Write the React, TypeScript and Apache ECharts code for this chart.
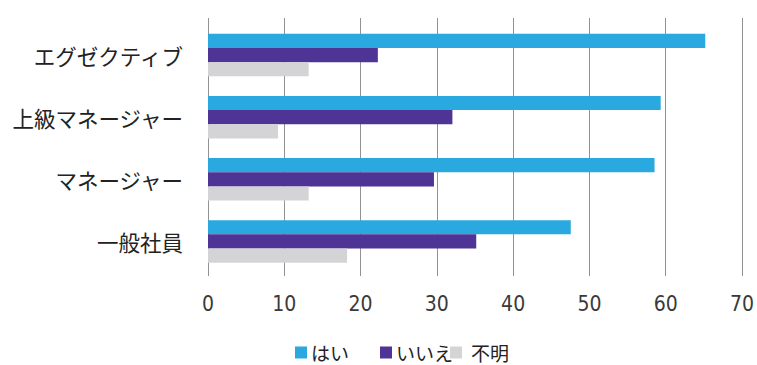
import React, { useEffect, useRef } from "react";
import * as echarts from "echarts";

const categories = ["エグゼクティブ", "上級マネージャー", "マネージャー", "一般社員"];
const seriesNames = ["はい", "いいえ", "不明"];
const yesValues = [64.7, 58.9, 58.1, 47.2];
const noValues = [22.1, 31.8, 29.4, 34.9];
const unknownValues = [13.1, 9.1, 13.1, 18.1];
const xTicks = [0, 10, 20, 30, 40, 50, 60, 70];

const colors = ["#29a9df", "#4e3595", "#d4d4d6"];
const legendLefts = [295, 380, 450];
const legendTextPad = [0, 0, 5];

export default function App() {
  const ref = useRef<HTMLDivElement>(null);
  useEffect(() => {
    if (!ref.current) return;
    const chart = echarts.init(ref.current, null, { renderer: "svg" });
    const data = [yesValues, noValues, unknownValues];
    chart.setOption({
      animation: false,
      backgroundColor: "#ffffff",
      legend: seriesNames.map((name, i) => ({
        data: [name],
        left: legendLefts[i],
        top: 343,
        padding: 0,
        itemWidth: 12,
        itemHeight: 12,
        itemGap: 0,
        icon: "rect",
        selectedMode: false,
        textStyle: {
          fontFamily: "Noto Sans CJK JP",
          fontSize: 19,
          color: "#222",
          padding: [0, 0, 0, legendTextPad[i] - 1],
        },
      })),
      grid: [
        { left: 208, right: 11, top: 18, height: 258, containLabel: false },
        { left: 208, right: 11, top: 24, height: 248.5, containLabel: false },
      ],
      xAxis: [
        {
          gridIndex: 0,
          type: "value",
          min: xTicks[0],
          max: xTicks[xTicks.length - 1],
          interval: 10,
          axisLine: { show: false },
          axisTick: { show: false },
          splitLine: { show: true, lineStyle: { color: "#929292", width: 1 } },
          axisLabel: {
            margin: 17,
            fontFamily: "'Liberation Sans Narrow', 'DejaVu Sans Condensed', Roboto, sans-serif",
            fontSize: 21,
            color: "#3a3a3a",
          },
        },
        {
          gridIndex: 1,
          type: "value",
          min: xTicks[0],
          max: xTicks[xTicks.length - 1],
          interval: 10,
          show: false,
          splitLine: { show: false },
        },
      ],
      yAxis: [
        {
          gridIndex: 0,
          type: "category",
          data: categories,
          show: false,
        },
        {
          gridIndex: 1,
          type: "category",
          data: categories,
          inverse: true,
          axisLine: { show: false },
          axisTick: { show: false },
          axisLabel: {
            margin: 25,
            fontFamily: "Noto Sans CJK JP",
            fontSize: 21.5,
            color: "#222",
          },
        },
      ],
      series: seriesNames.map((name, i) => ({
        name,
        type: "bar",
        xAxisIndex: 1,
        yAxisIndex: 1,
        data: data[i],
        barWidth: 14.2,
        barGap: "0%",
        itemStyle: { color: colors[i] },
      })),
    });
    return () => chart.dispose();
  }, []);
  return (
    <div
      ref={ref}
      style={{ position: "absolute", left: 0, top: 0, width: 757, height: 365 }}
    />
  );
}
